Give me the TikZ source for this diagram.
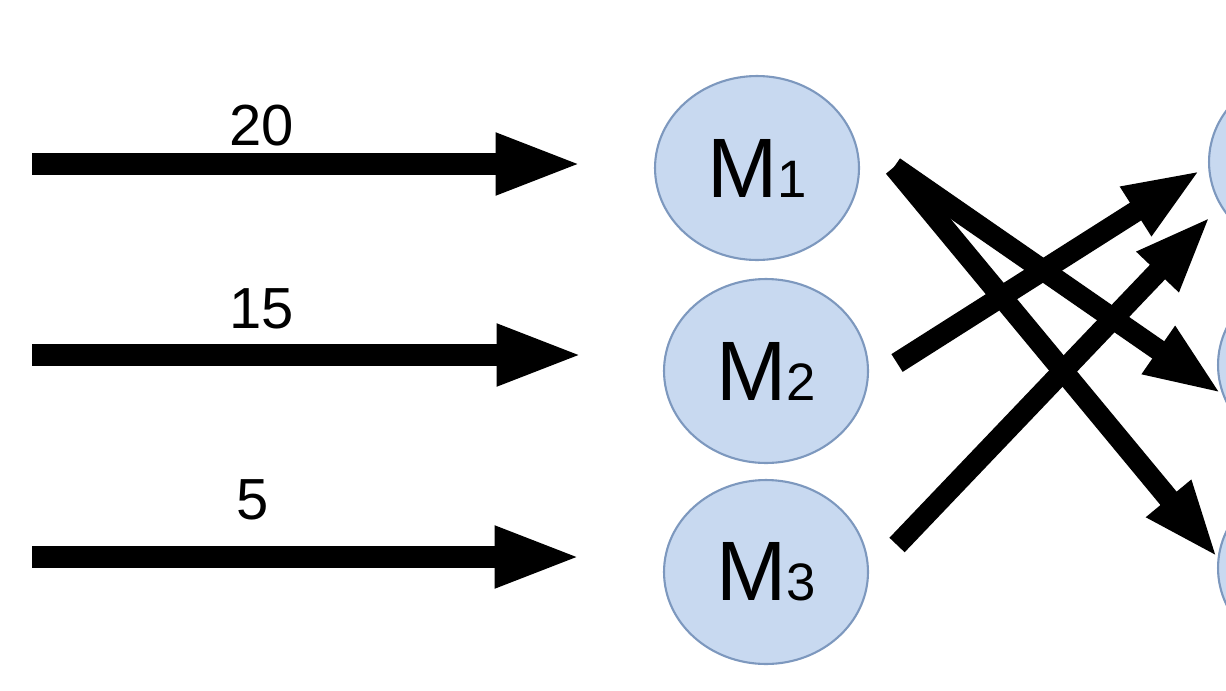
\documentclass[tikz,border=0pt]{standalone}
\usepackage{fontspec}
\setmainfont{Liberation Sans}
\usetikzlibrary{arrows.meta,shapes.geometric}
\definecolor{mfill}{RGB}{200,217,240}
\definecolor{mdraw}{RGB}{125,152,190}
\newcommand{\mlabel}[1]{{\fontsize{48}{48}\selectfont M}{\fontsize{30}{30}\selectfont #1}}
\begin{document}
\begin{tikzpicture}[x=0.02cm,y=-0.02cm,
    mach/.style={ellipse,draw=mdraw,line width=1.2pt,fill=mfill,minimum width=4.08cm,minimum height=3.68cm,inner sep=0pt},
    flow/.style={line width=0.43cm,-{Triangle[length=1.75cm,width=1.12cm]}},
    cross/.style={line width=0.42cm,-{Triangle[length=1.55cm,width=1.05cm]}},
    amount/.style={anchor=base,font=\fontsize{33}{33}\selectfont}]
      \useasboundingbox (0,0) rectangle (1226,690);
      \clip (0,0) rectangle (1226,690);
      \node[mach] (M1) at (757,168) {\mlabel{1}};
      \node[mach] (M2) at (766,371) {\mlabel{2}};
      \node[mach] (M3) at (766,572) {\mlabel{3}};
      \node[mach] (T1) at (1311,162) {};
      \node[mach] (T2) at (1320,365) {};
      \node[mach] (T3) at (1320,568) {};
      \coordinate (in1) at (32,164);
      \coordinate (in2) at (32,355);
      \coordinate (in3) at (32,557);
      \draw[flow,shorten >=1.42cm] (in1) -- (in1 -| M1.west);
      \draw[flow,shorten >=1.58cm] (in2) -- (in2 -| M2.west);
      \draw[flow,shorten >=1.62cm] (in3) -- (in3 -| M3.west);
      \node[amount] (a1) at (262,145) {20};
      \node[amount] (a2) at (262,328) {15};
      \node[amount] (a3) at (253,519) {5};
      \draw[cross] ([shift={(34,-1)}]M1.east) -- ([shift={(5,29)}]T2.west);
      \draw[cross] ([shift={(34,-1)}]M1.east) -- ([shift={(1,-10)}]T3.west);
      \draw[cross] ([shift={(28,-8)}]M2.east) -- ([shift={(-7,8)}]T1.west);
      \draw[cross] ([shift={(28,-27)}]M3.east) -- ([shift={(3,54)}]T1.west);
\end{tikzpicture}
\end{document}
